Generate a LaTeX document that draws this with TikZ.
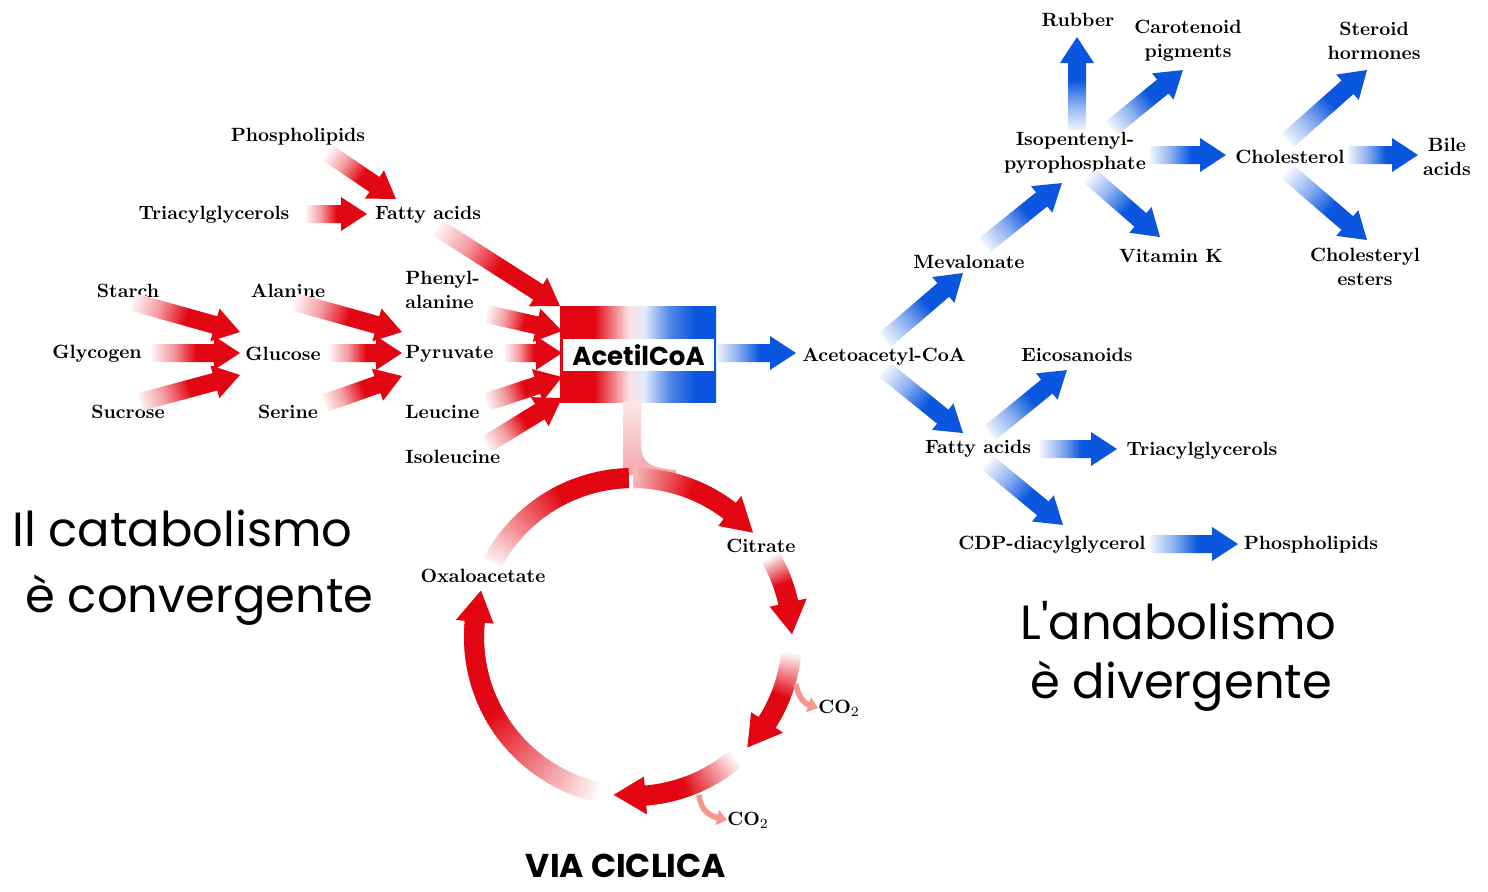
\documentclass[tikz,border=0pt]{standalone}
\usepackage{fontspec}
\newfontfamily\comic{Poppins}
\usetikzlibrary{calc,arrows.meta}
\definecolor{ared}{RGB}{226,6,18}
\definecolor{ablue}{RGB}{10,86,222}
\definecolor{salmon}{RGB}{248,150,140}
\colorlet{ared05}{ared!5!white}
\colorlet{ared40}{ared!40!white}
\colorlet{ablue05}{ablue!6!white}
\colorlet{ablue45}{ablue!45!white}
\colorlet{midpink}{ared!12!white}
\colorlet{midblue}{ablue!12!white}
\colorlet{ablue70}{ablue!70!white}
\pgfdeclarehorizontalshading{redarr}{100bp}{color(0bp)=(ared05); color(25bp)=(ared05); color(37bp)=(ared40); color(50bp)=(ared); color(100bp)=(ared)}
\pgfdeclarehorizontalshading{bluearr}{100bp}{color(0bp)=(ablue05); color(25bp)=(ablue05); color(38bp)=(ablue45); color(52bp)=(ablue); color(100bp)=(ablue)}
\pgfdeclarehorizontalshading{acetil}{100bp}{color(0bp)=(ared); color(25bp)=(ared); color(36bp)=(ared); color(47bp)=(midpink); color(52bp)=(midblue); color(60bp)=(ablue70); color(68bp)=(ablue); color(100bp)=(ablue)}
\tikzset{
  redar/.style={shading=redarr},
  bluear/.style={shading=bluearr},
  lbl/.style={inner sep=0pt, text=black, font=\fontsize{9.6}{12}\selectfont\bfseries, align=center},
  big/.style={inner sep=0pt, anchor=west, text=black, font=\comic\fontsize{24}{28}\selectfont},
  co2/.style={salmon, line width=2.8pt, -{Triangle[length=5pt,width=7.5pt]}}
}
% gradient block arrow from #2 to #3
\newcommand\garrow[3]{%
  \path (#2) coordinate (gaS) (#3) coordinate (gaE);%
  \pgfpointdiff{\pgfpointanchor{gaS}{center}}{\pgfpointanchor{gaE}{center}}%
  \pgfgetlastxy{\gadx}{\gady}%
  \pgfmathveclen{\gadx}{\gady}\let\gaL\pgfmathresult
  \pgfmathatantwo{\gady}{\gadx}\let\gaA\pgfmathresult
  \pgfmathsetmacro\gaN{\gaL-13}%
  \begin{scope}[transform canvas={shift={(gaS)},rotate=\gaA}]
    \shade[#1] (0pt,-4.5pt) -- (\gaN pt,-4.5pt) -- (\gaN pt,-8.5pt) -- (\gaL pt,0pt) -- (\gaN pt,8.5pt) -- (\gaN pt,4.5pt) -- (0pt,4.5pt) -- cycle;
  \end{scope}}
% ring segment with gradient (angles, start/end percentage)
\newcommand\ringseg[4]{%
  \foreach \i in {0,...,69}{%
    \pgfmathsetmacro\aa{#1+(#2-#1)*\i/70}%
    \pgfmathsetmacro\bb{#1+(#2-#1)*(\i+1.6)/70}%
    \pgfmathsetmacro\pc{#3+(#4-#3)*min(1,1.7*\i/69)}%
    \fill[ared!\pc!white] (\aa:149) arc[start angle=\aa, end angle=\bb, radius=149] -- (\bb:169) arc[start angle=\bb, end angle=\aa, radius=169] -- cycle;
  }}
\newcommand\ringhead[2]{\fill[ared] (#1:140) -- (#1:178) -- (#2:159) -- cycle;}
\begin{document}
\begin{tikzpicture}[x=0.5pt,y=-0.5pt]
\fill[white] (0,0) rectangle (1488,891);
\useasboundingbox (0,0) rectangle (1488,891);

% ---------- left labels ----------
\node[lbl] (phos) at (298,137) {Phospholipids};
\node[lbl] (tag) at (214,215) {Triacylglycerols};
\node[lbl] (fa) at (428,215) {Fatty acids};
\node[lbl] (starch) at (128,291) {Starch};
\node[lbl] (glycogen) at (97,354) {Glycogen};
\node[lbl] (sucrose) at (128,412) {Sucrose};
\node[lbl] (alanine) at (288,291) {Alanine};
\node[lbl] (glucose) at (283,354) {Glucose};
\node[lbl] (serine) at (288,412) {Serine};
\node[lbl, align=left, anchor=west] (phe) at (405,290) {Phenyl-\\alanine};
\node[lbl, anchor=west] (pyr) at (405,354) {Pyruvate};
\node[lbl, anchor=west] (leu) at (405,412) {Leucine};
\node[lbl, anchor=west] (ile) at (405,457) {Isoleucine};

% ---------- red arrows ----------
\garrow{redar}{328,153}{396,199}
\garrow{redar}{306,214}{367,214}
\garrow{redar}{438,228}{560,306}
\garrow{redar}{133,302}{240,332}
\garrow{redar}{152,353}{240,353}
\garrow{redar}{140,402}{240,375}
\garrow{redar}{295,302}{402,332}
\garrow{redar}{330,353}{402,353}
\garrow{redar}{325,403}{402,376}
\garrow{redar}{487,314}{562,331}
\garrow{redar}{505,353}{562,353}
\garrow{redar}{487,402}{562,377}
\garrow{redar}{487,444}{562,398}

% ---------- AcetilCoA ----------
\shade[shading=acetil] (560,306) rectangle (716,402);
\node[fill=white, minimum width=75.5pt, minimum height=16pt, inner sep=0pt,
      font=\comic\bfseries\fontsize{13}{13}\selectfont] (acetil) at (638.5,355) {AcetilCoA};

% ---------- cycle ----------
\shade[top color=ared!10!white, bottom color=ared!35!white] (623,402) rectangle (641,474);
\fill[ared!33!white] (641,445) .. controls (641,464) and (652,468) .. (676,470) -- (676,482) -- (641,482) -- cycle;
\begin{scope}[shift={(633,637)}, x=0.5pt, y=0.5pt]
  \ringseg{152}{92}{6}{100}
  \ringseg{90}{52}{28}{100}
  \ringhead{52.5}{41}
  \ringseg{30}{12}{4}{100}
  \ringhead{12.5}{1}
  \ringseg{-6}{-33}{4}{100}
  \ringhead{-32.5}{-44}
  \ringseg{-50}{-86}{4}{100}
  \ringhead{-85.5}{-97}
  \ringseg{-103}{-186}{4}{100}
  \ringhead{-185.5}{-197}
\end{scope}
\node[lbl] (citrate) at (761,546) {Citrate};
\node[lbl] (oxa) at (483,576) {Oxaloacetate};
\node[lbl, anchor=west] (co2a) at (818,708) {CO$_2$};
\node[lbl, anchor=west] (co2b) at (727,820) {CO$_2$};
\draw[co2] (796,684) .. controls (799,700) and (806,704) .. (co2a.west);
\draw[co2] (699,795) .. controls (701,812) and (711,816) .. (co2b.west);

% ---------- right labels ----------
\node[lbl, anchor=west] (aacoa) at (802,357) {Acetoacetyl-CoA};
\node[lbl] (mev) at (969,262) {Mevalonate};
\node[lbl] (ipp) at (1075,153) {Isopentenyl-\\pyrophosphate};
\node[lbl] (rubber) at (1078,20) {Rubber};
\node[lbl] (carot) at (1188,41) {Carotenoid\\pigments};
\node[lbl] (steroid) at (1374,41) {Steroid\\hormones};
\node[lbl] (chol) at (1290,157) {Cholesterol};
\node[lbl] (bile) at (1447,157) {Bile\\acids};
\node[lbl] (vitk) at (1171,256) {Vitamin K};
\node[lbl] (chest) at (1365,267) {Cholesteryl\\esters};
\node[lbl] (eico) at (1077,355) {Eicosanoids};
\node[lbl] (fa2) at (978,449) {Fatty acids};
\node[lbl] (tag2) at (1202,451) {Triacylglycerols};
\node[lbl] (cdp) at (1052,545) {CDP-diacylglycerol};
\node[lbl] (phos2) at (1311,545) {Phospholipids};

% ---------- blue arrows ----------
\garrow{bluear}{716,353}{796,353}
\garrow{bluear}{885,340}{963,273}
\garrow{bluear}{985,245}{1062,183}
\garrow{bluear}{1077,130}{1077,37}
\garrow{bluear}{1112,128}{1183,70}
\garrow{bluear}{1150,155}{1226,155}
\garrow{bluear}{1090,176}{1160,237}
\garrow{bluear}{1288,140}{1367,70}
\garrow{bluear}{1348,155}{1418,155}
\garrow{bluear}{1288,172}{1367,240}
\garrow{bluear}{885,370}{963,433}
\garrow{bluear}{990,433}{1067,370}
\garrow{bluear}{1040,449}{1117,449}
\garrow{bluear}{988,463}{1063,525}
\garrow{bluear}{1150,544}{1238,544}

% ---------- big texts ----------
\node[big] (cat1) at (12,528) {Il catabolismo};
\node[big] (cat2) at (25,600) {è convergente};
\node[big] (ana1) at (1020,621) {L'anabolismo};
\node[big] (ana2) at (1030,686) {è divergente};
\node[inner sep=0pt, font=\comic\bfseries\fontsize{16.5}{16.5}\selectfont] (via) at (626,866) {VIA CICLICA};
\end{tikzpicture}
\end{document}
